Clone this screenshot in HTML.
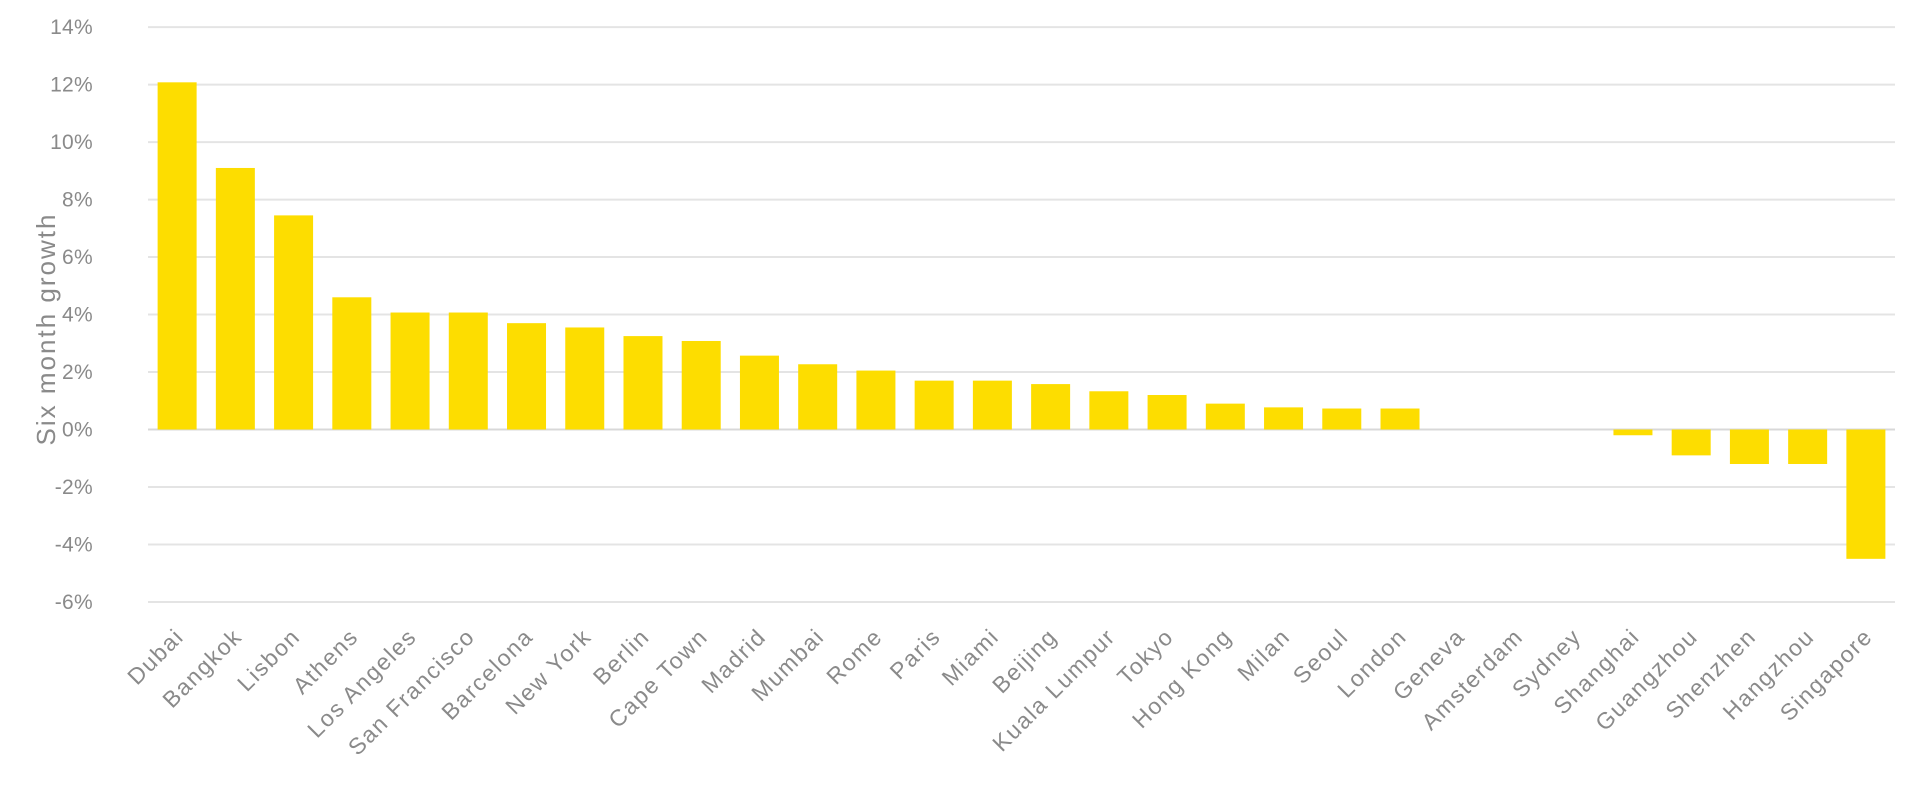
<!DOCTYPE html>
<html><head><meta charset="utf-8"><style>
html,body{margin:0;padding:0;background:#fff;}
svg text{font-family:"Liberation Sans",sans-serif;fill:#8a8a8a;}
</style></head><body>
<svg width="1920" height="791" viewBox="0 0 1920 791" xmlns="http://www.w3.org/2000/svg">
<g id="grid" stroke="#e4e4e4" stroke-width="2"></g>
<g id="bars" fill="#FDDD00"></g>
<g id="ylab" font-size="21" text-anchor="end"></g>
<g id="xlab" font-size="23" text-anchor="end"></g>
<text x="55" y="329" font-size="26" text-anchor="middle" transform="rotate(-90 55 329)" letter-spacing="2">Six month growth</text>
<script>
var NS="http://www.w3.org/2000/svg";
var z=429.5,u=28.74,x0=148,x1=1895,n=30,p=(x1-x0)/n;
var g=document.getElementById('grid'),yl=document.getElementById('ylab');
for(var v=-6;v<=14;v+=2){var y=z-v*u;
var l=document.createElementNS(NS,'line');l.setAttribute('x1',x0);l.setAttribute('x2',x1);l.setAttribute('y1',y);l.setAttribute('y2',y);if(v===0)l.setAttribute('stroke','#d8d8d8');g.appendChild(l);
var t=document.createElementNS(NS,'text');t.setAttribute('x',93);t.setAttribute('y',y+7);t.setAttribute('letter-spacing','0.3');t.textContent=v+'%';yl.appendChild(t);}
var d=[["Dubai",12.08],["Bangkok",9.1],["Lisbon",7.45],["Athens",4.6],["Los Angeles",4.07],["San Francisco",4.07],["Barcelona",3.7],["New York",3.55],["Berlin",3.25],["Cape Town",3.08],["Madrid",2.57],["Mumbai",2.27],["Rome",2.05],["Paris",1.7],["Miami",1.7],["Beijing",1.58],["Kuala Lumpur",1.33],["Tokyo",1.2],["Hong Kong",0.9],["Milan",0.77],["Seoul",0.73],["London",0.73],["Geneva",0],["Amsterdam",0],["Sydney",0],["Shanghai",-0.2],["Guangzhou",-0.9],["Shenzhen",-1.2],["Hangzhou",-1.2],["Singapore",-4.5]];
var b=document.getElementById('bars'),xl=document.getElementById('xlab');
d.forEach(function(e,i){var cx=x0+p*(i+0.5),w=39;
if(e[1]!==0){var r=document.createElementNS(NS,'rect');var h=Math.abs(e[1])*u;
r.setAttribute('x',cx-w/2);r.setAttribute('width',w);r.setAttribute('y',e[1]>0?z-h:z);r.setAttribute('height',h);b.appendChild(r);}
var t=document.createElementNS(NS,'text');var tx=cx+8,ty=638;
t.setAttribute('x',tx);t.setAttribute('y',ty);t.setAttribute('transform','rotate(-45 '+tx+' '+ty+')');t.setAttribute('letter-spacing','1.6');t.textContent=e[0];xl.appendChild(t);});
</script>
</svg>
</body></html>
